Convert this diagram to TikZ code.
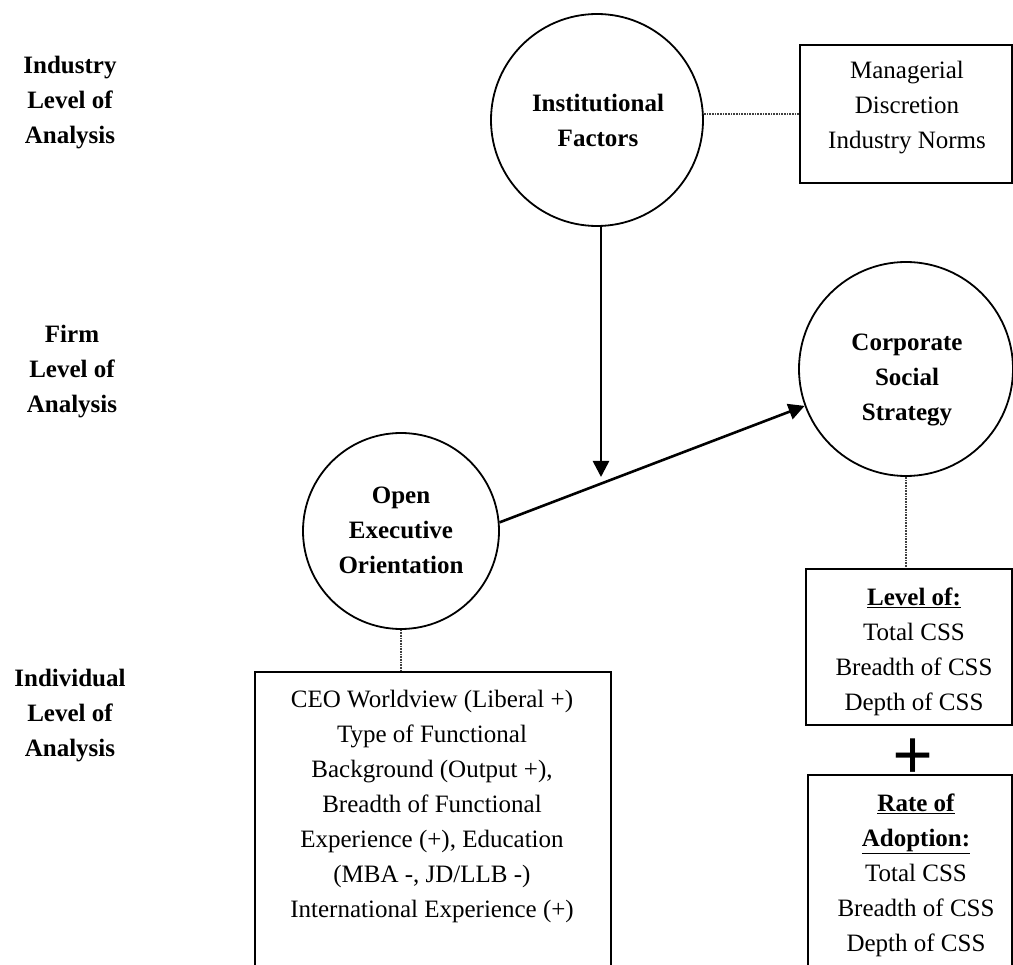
\documentclass[tikz,border=0pt]{standalone}
\usepackage{fontspec}
\setmainfont{Liberation Serif}
\usetikzlibrary{arrows.meta}
\begin{document}
\begin{tikzpicture}[x=1pt,y=-1pt,
  every node/.style={font=\fontsize{25}{35}\selectfont, align=center, inner sep=0pt},
  circ/.style={draw, circle, line width=1.8pt, minimum size=#1},
  box/.style={draw, rectangle, line width=1.8pt},
  lbl/.style={font=\fontsize{25}{35}\selectfont\bfseries},
  conn/.style={draw=black!75, line width=1.5pt, dash pattern=on 1pt off 0.6pt},
  arr/.style={line width=2.6pt, -{Triangle[length=16pt,width=16pt]}}]
\useasboundingbox (0,0) rectangle (1013,965);
\clip (0,0) rectangle (1013,965);

% level labels
\node[lbl] (ind) at (70,103) {Industry\\Level of\\Analysis};
\node[lbl] (firm) at (72,372) {Firm\\Level of\\Analysis};
\node[lbl] (indiv) at (70,716) {Individual\\Level of\\Analysis};

% circles
\node[circ=212pt] (if) at (597,120) {};
\node[lbl] (ift) at (598,120) {Institutional\\Factors};
\node[circ=214pt] (css) at (906,369) {};
\node[lbl] (csst) at (907,380) {Corporate\\Social\\Strategy};
\node[circ=196pt] (oeo) at (401,531) {};
\node[lbl] (oeot) at (401,530) {Open\\Executive\\Orientation};

% boxes
\node[box, minimum width=212pt, minimum height=138pt] (mgr) at (906,114) {};
\node (mgrt) at (907,108) {Managerial\\Discretion\\Industry Norms};
\node[box, minimum width=206pt, minimum height=156pt] (lev) at (909,647) {};
\node (levt) at (914,652) {\textbf{\underline{Level of:}}\\Total CSS\\Breadth of CSS\\Depth of CSS};
\node[box, minimum width=204pt, minimum height=225pt] (rate) at (910,887.5) {};
\node (ratet) at (916,875) {\textbf{\underline{Rate of}}\\\textbf{\underline{Adoption:}}\\Total CSS\\Breadth of CSS\\Depth of CSS};
\node[box, minimum width=356pt, minimum height=328pt] (ceo) at (433,836) {};
\node (ceot) at (432,806) {CEO Worldview (Liberal +)\\Type of Functional\\Background (Output +),\\Breadth of Functional\\Experience (+), Education\\(MBA -, JD/LLB -)\\International Experience (+)};

% plus sign
\node[font=\fontsize{72}{72}\selectfont\bfseries] (plus) at (913,759) {+};

% connectors
\draw[conn] (mgr.west) -- (mgr.west -| if.east);
\draw[conn] (oeo.south) -- (oeo.south |- ceo.north);
\draw[conn] (css.south) -- (css.south |- lev.north);

% arrows
\coordinate (tip) at (601,477);
\draw[arr] (if.south -| tip) -- (tip);
\draw[arr] (oeo.5) -- (css.200);
\end{tikzpicture}
\end{document}
